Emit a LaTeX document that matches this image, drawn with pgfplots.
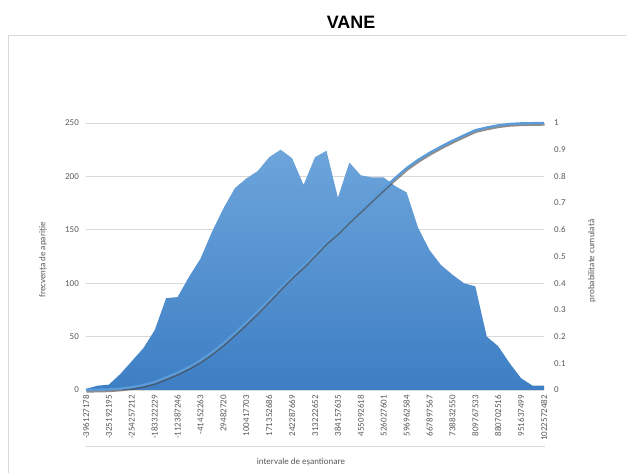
\documentclass[border=0pt]{standalone}
\usepackage{pgfplots}
\usepackage{pgfplotstable}
\pgfplotsset{compat=1.18}
\usepackage{fontspec}
\setmainfont{Carlito}
\newfontfamily\titlefont{Liberation Sans}
\definecolor{tickgray}{HTML}{595959}
\definecolor{gridgray}{HTML}{D9D9D9}
\definecolor{areatop}{HTML}{6DA5DB}
\definecolor{areabot}{HTML}{3D7EC4}
\definecolor{lineblue}{HTML}{5A9BD8}
\definecolor{shadowgray}{HTML}{4A3F38}

\pgfplotstableread{
i f c
0 1 0.0002
1 4 0.0010
2 5 0.0020
3 15 0.0050
4 27 0.0105
5 39 0.0183
6 56 0.0296
7 86 0.0470
8 87 0.0645
9 106 0.0859
10 123 0.1107
11 148 0.1405
12 170 0.1748
13 189 0.2129
14 198 0.2528
15 205 0.2941
16 218 0.3380
17 225 0.3834
18 217 0.4271
19 192 0.4658
20 218 0.5098
21 224 0.5549
22 180 0.5912
23 213 0.6341
24 201 0.6747
25 199 0.7148
26 199 0.7549
27 191 0.7934
28 185 0.8307
29 152 0.8613
30 131 0.8877
31 117 0.9113
32 108 0.9331
33 100 0.9532
34 97 0.9728
35 50 0.9829
36 41 0.9911
37 25 0.9962
38 11 0.9984
39 4 0.9992
40 4 1.0000
}\datatable

\begin{document}
\begin{tikzpicture}[x=1bp,y=1bp]
\path[use as bounding box] (0,0) rectangle (626,473);
\draw[gridgray, line width=0.8bp] (8,-5) -- (8,438) -- (640,438);
\node[font=\titlefont\bfseries\fontsize{18}{20}\selectfont] at (351,451) {VANE};
\begin{axis}[
  at={(86bp,83bp)}, anchor=south west, scale only axis,
  width=458bp, height=267bp,
  xmin=0, xmax=40, ymin=0, ymax=250,
  ytick={0,50,...,250},
  xtick={0,2,...,40},
  xticklabels={-396127178,-325192195,-254257212,-183322229,-112387246,-41452263,29482720,100417703,171352686,242287669,313222652,384157635,455092618,526027601,596962584,667897567,738832550,809767533,880702516,951637499,1022572482},
  xticklabel shift=5bp,
  xticklabel style={rotate=90, anchor=east, inner sep=0bp, font=\fontsize{9}{10}\selectfont, text=tickgray},
  yticklabel style={font=\fontsize{9}{10}\selectfont, text=tickgray, inner sep=1bp, xshift=-6bp},
  /pgf/number format/assume math mode=true,
  ymajorgrids, grid style={gridgray, line width=0.7bp},
  axis line style={draw=none},
  tick style={draw=none},
  clip=false,
]
\addplot[draw=none, top color=areatop, bottom color=areabot] table[x=i,y=f]{\datatable} \closedcycle;
\draw[gridgray, line width=0.7bp] (axis cs:0,0) -- (axis cs:40,0);
\end{axis}
\begin{axis}[
  at={(86bp,83bp)}, anchor=south west, scale only axis,
  width=458bp, height=267bp,
  xmin=0, xmax=40, ymin=0, ymax=1,
  ytick={0,0.1,...,1.01},
  axis x line=none,
  axis y line*=right,
  yticklabel pos=right,
  yticklabel style={font=\fontsize{9}{10}\selectfont, text=tickgray, inner sep=1bp, xshift=9bp, /pgf/number format/.cd, fixed, precision=1},
  /pgf/number format/assume math mode=true,
  axis line style={draw=none},
  tick style={draw=none},
  clip=false,
]
\addplot[shadowgray, opacity=0.6, line width=2.4bp, xshift=0.5bp, yshift=-1.5bp] table[x=i,y=c]{\datatable};
\addplot[lineblue, line width=2.4bp] table[x=i,y=c]{\datatable};
\end{axis}
\draw[gridgray, line width=0.8bp] (86,26.5) -- (545,26.5);
\node[rotate=90, text=tickgray, font=\fontsize{9}{10}\selectfont] at (43,213) {frecvența de apariție};
\node[rotate=90, text=tickgray, font=\fontsize{9}{10}\selectfont] at (592,212) {probabilitate cumulată};
\node[text=tickgray, font=\fontsize{9}{10}\selectfont] at (301,11) {intervale de eșantionare};
\end{tikzpicture}
\end{document}
